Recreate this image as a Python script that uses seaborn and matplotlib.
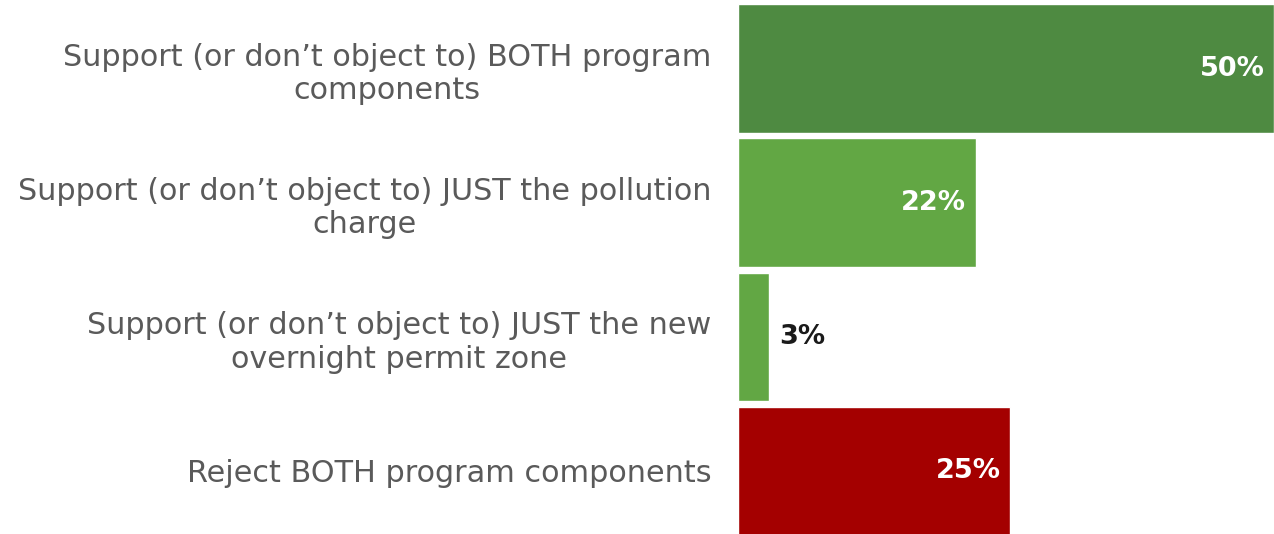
import pandas as pd
import matplotlib
matplotlib.use("Agg")
import matplotlib.pyplot as plt
import seaborn as sns

# dados
categories = [
    "Support (or don’t object to) BOTH program\ncomponents",
    "Support (or don’t object to) JUST the pollution\ncharge",
    "Support (or don’t object to) JUST the new\novernight permit zone",
    "Reject BOTH program components",
]
values = [50, 22.2, 2.9, 25.4]
value_labels = ["50%", "22%", "3%", "25%"]
bar_colors = ["#4e8a41", "#62a744", "#62a744", "#a40000"]

df = pd.DataFrame({"category": categories, "value": values})

sns.set_theme(style="white")
plt.rcParams["font.family"] = ["DejaVu Sans"]

fig = plt.figure(figsize=(12.74, 5.34), dpi=100)
ax = fig.add_axes([738 / 1274, 0, 536 / 1274, 1])

sns.barplot(data=df, y="category", x="value", hue="category",
            palette=bar_colors, orient="h", width=0.96, legend=False,
            saturation=1, ax=ax)

ax.set_xlim(0, 50)
ax.set_ylim(3.47, -0.513)
ax.set_xlabel("")
ax.set_ylabel("")
ax.set_xticks([])
sns.despine(ax=ax, left=True, bottom=True, top=True, right=True)

ax.tick_params(axis="y", length=0, pad=19)
for lbl in ax.get_yticklabels():
    lbl.set_fontsize(21.8)
    lbl.set_color("#5a5a5a")
    lbl.set_multialignment("center")
    lbl.set_linespacing(1.2)

# rótulos de valor
for i, (v, txt) in enumerate(zip(values, value_labels)):
    if v < 8:
        ax.text(v + 0.9, i, txt, ha="left", va="center",
                fontsize=19.5, fontweight="bold", color="#1a1a1a")
    else:
        ax.text(v - 0.9, i, txt, ha="right", va="center",
                fontsize=19.5, fontweight="bold", color="white")

plt.savefig("out.png", dpi=100)
plt.close()
